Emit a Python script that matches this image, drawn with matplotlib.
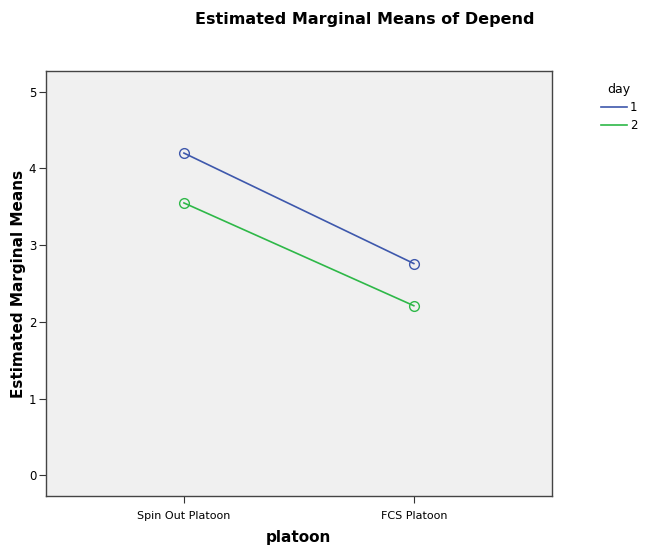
import numpy as np
import matplotlib.pyplot as plt

# Datos
platoon = ["Spin Out Platoon", "FCS Platoon"]
dias = ["1", "2"]
medias_dia1 = [4.20, 2.76]
medias_dia2 = [3.55, 2.21]
colores = ["#3E58AC", "#2EB848"]

fig = plt.figure(figsize=(6.6, 5.46), dpi=100)
ax = fig.add_axes([0.0697, 0.0916, 0.7663, 0.7784])
ax.set_facecolor("#F0F0F0")

x = np.arange(len(platoon))
lineas = []
for medias, color, d in zip([medias_dia1, medias_dia2], colores, dias):
    ax.plot(x, medias, color=color, lw=1.2, marker="o", ms=7,
            mfc="none", mec=color, mew=1.0, label=d)
    lineas.append(plt.Line2D([], [], color=color, lw=1.2))

ax.set_xlim(-0.6, 1.6)
ax.set_ylim(-0.27, 5.27)
ax.set_xticks(x)
ax.set_xticklabels(platoon, fontsize=8)
ax.set_yticks(range(6))
ax.tick_params(axis="y", labelsize=8.5, direction="out", length=5, color="#333333", pad=2)
ax.tick_params(axis="x", direction="out", length=5, color="#333333", pad=6)
for s in ax.spines.values():
    s.set_color("#444444")
    s.set_linewidth(1.0)

ax.set_xlabel("platoon", fontsize=11, fontweight="bold", labelpad=6)
ax.set_ylabel("Estimated Marginal Means", fontsize=11, fontweight="bold", labelpad=2)
fig.suptitle("Estimated Marginal Means of Depend", fontsize=11.5, fontweight="bold",
             x=0.553, y=0.978)

leg = fig.legend(lineas, dias, title="day", loc="upper left", bbox_to_anchor=(0.895, 0.868),
                 frameon=False, fontsize=8.5, title_fontsize=9, handlelength=2.2,
                 handletextpad=0.2, labelspacing=0.45)
leg._legend_box.align = "center"

fig.savefig("out.png", dpi=100)
